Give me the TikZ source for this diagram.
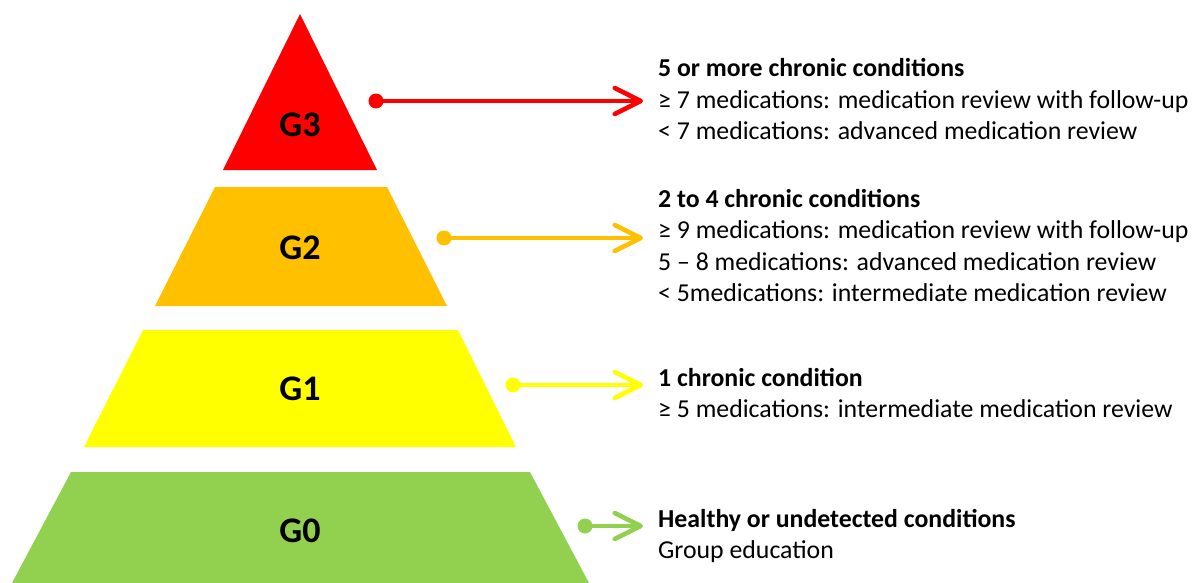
\documentclass[tikz,border=0pt]{standalone}
\usepackage{fontspec}
\setmainfont{Carlito}
\usetikzlibrary{arrows.meta}
\definecolor{cred}{HTML}{FF0000}
\definecolor{corange}{HTML}{FFC000}
\definecolor{cyellow}{HTML}{FFFF00}
\definecolor{cgreen}{HTML}{92D050}
\begin{document}
\begin{tikzpicture}[x=1pt,y=-1pt,
  lvl/.style={font=\fontsize{36}{40}\selectfont\bfseries, inner sep=0pt},
  txt/.style={anchor=base west, inner sep=0pt, font=\fontsize{25.8}{30}\selectfont},
  hd/.style={txt, font=\fontsize{25.8}{30}\selectfont\bfseries},
  dotn/.style={circle, inner sep=0pt, minimum size=15pt},
  conn/.style={line width=4.5pt, -{Straight Barb[length=26pt,width=26pt,line cap=round,line join=round]}}]
\useasboundingbox (0,0) rectangle (1194,583);
\fill[white] (0,0) rectangle (1194,583);
% pyramid levels
\fill[cred] (223,170) -- (300,14) -- (377,170) -- cycle;
\fill[corange] (155,306) -- (215,187) -- (387,187) -- (447,306) -- cycle;
\fill[cyellow] (84,447) -- (143,330) -- (458,330) -- (516,447) -- cycle;
\fill[cgreen] (12,583) -- (71,472) -- (530,472) -- (589,583) -- cycle;
% level labels
\node[lvl] (g3) at (300,124.5) {G3};
\node[lvl] (g2) at (300,247.5) {G2};
\node[lvl] (g1) at (300,389) {G1};
\node[lvl] (g0) at (300,531) {G0};
% connectors
\node[dotn, fill=cred] (d3) at (376,101) {};
\coordinate (t3) at (643,101);
\draw[conn, cred] (d3.center) -- (t3);
\node[dotn, fill=corange] (d2) at (444,238) {};
\coordinate (t2) at (643,238);
\draw[conn, corange] (d2.center) -- (t2);
\node[dotn, fill=cyellow] (d1) at (513,385) {};
\coordinate (t1) at (643,385);
\draw[conn, cyellow] (d1.center) -- (t1);
\node[dotn, fill=cgreen] (d0) at (585,526) {};
\coordinate (t0) at (643,526);
\draw[conn, cgreen] (d0.center) -- (t0);
% texts
\node[hd] (h3) at (658,77) {5 or more chronic conditions};
\node[txt] (a3) at (658,108.5) {≥ 7 medications: medication review with follow-up};
\node[txt] (b3) at (658,140) {< 7 medications: advanced medication review};
\node[hd] (h2) at (658,207) {2 to 4 chronic conditions};
\node[txt] (a2) at (658,238.5) {≥ 9 medications: medication review with follow-up};
\node[txt] (b2) at (658,270) {5 – 8 medications: advanced medication review};
\node[txt] (c2) at (658,301.5) {< 5medications: intermediate medication review};
\node[hd] (h1) at (658,386) {1 chronic condition};
\node[txt] (a1) at (658,417) {≥ 5 medications: intermediate medication review};
\node[hd] (h0) at (658,527) {Healthy or undetected conditions};
\node[txt] (a0) at (658,558) {Group education};
\end{tikzpicture}
\end{document}
